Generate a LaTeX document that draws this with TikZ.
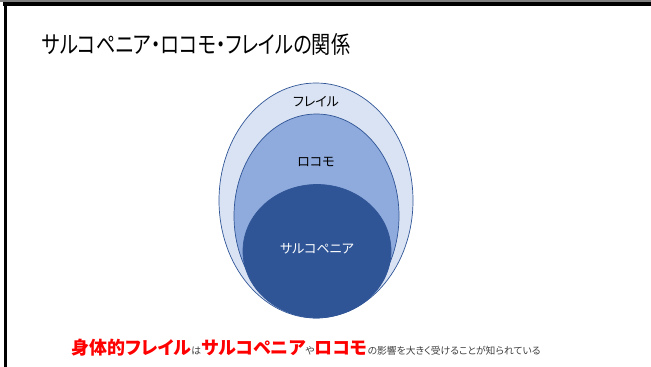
\documentclass[tikz,border=0pt]{standalone}
\usepackage{fontspec}
\setmainfont{Noto Sans CJK JP}[RawFeature=+palt]
\newfontfamily\jp{Noto Sans CJK JP}[RawFeature=+palt]
\definecolor{outerfill}{HTML}{DAE3F3}
\definecolor{midfill}{HTML}{8FAADC}
\definecolor{innerfill}{HTML}{2F5597}
\definecolor{edgeblue}{HTML}{2F5597}
\definecolor{graytext}{HTML}{404040}
\begin{document}
\begin{tikzpicture}[x=1pt,y=-1pt,
  ring/.style={draw=edgeblue,line width=0.7pt},
  lbl/.style={inner sep=0pt,font=\jp\fontsize{13}{15}\selectfont},
]
\useasboundingbox (0,0) rectangle (651,367);
\fill[white] (0,0) rectangle (651,367);
% frame
\draw[gray,line width=1.5pt] (0,0.75) -- (651,0.75);
\draw[black,line width=3.5pt] (3,4) -- (651,4);
\draw[black,line width=3pt] (5,2.5) -- (5,367);
% title
\node[anchor=west,inner sep=0pt,font=\jp\fontsize{24}{28}\selectfont] (title) at (42,44) {\scalebox{0.8}[1]{サルコペニア・ロコモ・フレイルの関係}};
% ellipses
\path[ring,fill=outerfill] (316,200.5) ellipse [x radius=97, y radius=117.5];
\path[ring,fill=midfill] (316.5,216) ellipse [x radius=82.5, y radius=102];
\path[ring,fill=innerfill] (317,251) ellipse [x radius=74, y radius=66.5];
\node[lbl] (frail) at (316,102) {フレイル};
\node[lbl] (locomo) at (316,162) {ロコモ};
\node[lbl,text=white] (sarco) at (317,249) {サルコペニア};
% bottom sentence
\node[anchor=base west,inner sep=0pt] (note) at (71,354) {%
{\jp\bfseries\fontsize{18}{20}\selectfont\color{red}身体的フレイル}%
{\jp\fontsize{9.8}{12}\selectfont\color{graytext}は}%
{\jp\bfseries\fontsize{18}{20}\selectfont\color{red}サルコペニア}%
{\jp\fontsize{9.8}{12}\selectfont\color{graytext}や}%
{\jp\bfseries\fontsize{18}{20}\selectfont\color{red}ロコモ}%
{\jp\fontsize{9.8}{12}\selectfont\color{graytext}の影響を大きく受けることが知られている}};
\end{tikzpicture}
\end{document}
